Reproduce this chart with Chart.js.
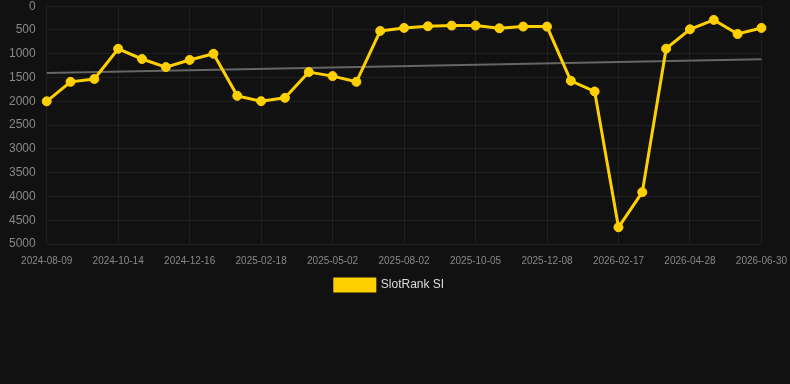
<!DOCTYPE html>
<html>
<head>
<meta charset="utf-8">
<script src="https://cdn.jsdelivr.net/npm/chart.js@4/dist/chart.umd.min.js"></script>
<style>
html,body{margin:0;padding:0;background:#111111;overflow:hidden;}
#wrap{position:relative;width:790px;height:305px;margin-top:-4px;}
</style>
</head>
<body>
<div id="wrap"><canvas id="c"></canvas></div>
<script>
const labels = ["2024-08-09","2024-08-31","2024-09-22","2024-10-14","2024-11-04","2024-11-25","2024-12-16","2025-01-06","2025-01-27","2025-02-18","2025-03-13","2025-04-07","2025-05-02","2025-06-02","2025-07-02","2025-08-02","2025-08-23","2025-09-14","2025-10-05","2025-10-26","2025-11-17","2025-12-08","2026-01-01","2026-01-24","2026-02-17","2026-03-11","2026-04-04","2026-04-28","2026-05-19","2026-06-09","2026-06-30"];
const rankValues = [2000,1590,1530,895,1110,1280,1130,1000,1885,1997,1927,1385,1470,1590,520,457,422,408,408,464,429,429,1568,1793,4648,3910,893,485,288,584,457];
const trendValues = [1406,null,null,null,null,null,null,null,null,null,null,null,null,null,null,null,null,null,null,null,null,null,null,null,null,null,null,null,null,null,1118];
const yTicks = [0,500,1000,1500,2000,2500,3000,3500,4000,4500,5000];

const gridCol = 'rgba(255,255,255,0.06)';
new Chart(document.getElementById('c'), {
  type: 'line',
  data: {
    labels: labels,
    datasets: [
      {
        label: 'SlotRank SI',
        data: rankValues,
        borderColor: '#FFD000',
        backgroundColor: '#FFD000',
        borderWidth: 3,
        pointRadius: 4.5,
        pointHoverRadius: 4.5,
        pointBorderWidth: 1,
        pointBackgroundColor: '#FFD000',
        pointBorderColor: '#FFD000',
        tension: 0,
        order: 1
      },
      {
        label: 'trend',
        data: trendValues,
        spanGaps: true,
        borderColor: '#666666',
        borderWidth: 2,
        pointRadius: 0,
        tension: 0,
        order: 2
      }
    ]
  },
  options: {
    responsive: true,
    maintainAspectRatio: false,
    animation: false,
    layout: { padding: { left: 6, right: 17, top: 0, bottom: 0 } },
    plugins: {
      legend: {
        position: 'bottom',
        labels: {
          color: '#dddddd',
          font: { family: 'Liberation Sans, Arial, sans-serif', size: 12 },
          boxWidth: 40,
          boxHeight: 12,
          padding: 9,
          filter: (item) => item.text !== 'trend'
        }
      },
      tooltip: { enabled: false }
    },
    scales: {
      x: {
        offset: false,
        grid: {
          color: (ctx) => (ctx.index % 3 === 0 ? gridCol : 'transparent'),
          drawTicks: true,
          tickLength: 8,
          tickColor: 'transparent'
        },
        border: { display: false },
        ticks: {
          autoSkip: false,
          maxRotation: 0,
          color: '#888888',
          padding: 3,
          font: { family: 'Liberation Sans, Arial, sans-serif', size: 10 },
          callback: function(v, i) { return i % 3 === 0 ? labels[i] : ''; }
        }
      },
      y: {
        reverse: true,
        min: 0,
        max: 5000,
        afterBuildTicks: (axis) => { axis.ticks = yTicks.map(v => ({ value: v })); },
        grid: { color: gridCol, drawTicks: true, tickLength: 8, tickColor: 'transparent' },
        border: { display: false },
        ticks: {
          color: '#888888',
          padding: 3,
          font: { family: 'Liberation Sans, Arial, sans-serif', size: 12 },
          callback: (v) => String(v)
        }
      }
    }
  }
});
</script>
</body>
</html>
